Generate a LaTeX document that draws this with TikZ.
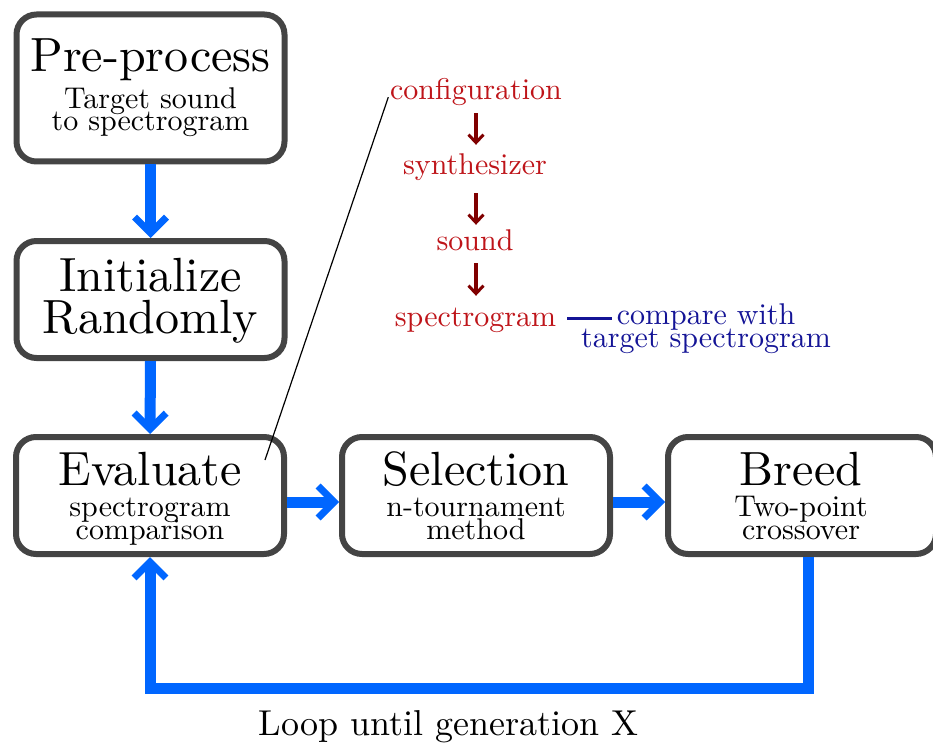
\documentclass[tikz,border=0pt]{standalone}
\usepackage{graphicx}
\usetikzlibrary{arrows.meta}
\definecolor{flowblue}{RGB}{0,102,255}
\definecolor{boxgray}{RGB}{68,68,68}
\definecolor{cfgred}{RGB}{190,20,25}
\definecolor{cfgarrow}{RGB}{128,0,0}
\definecolor{cmpblue}{RGB}{20,20,150}
\newcommand{\ttlsize}[1]{\scalebox{4.8}{#1}}
\newcommand{\subsize}[1]{\scalebox{3.0}{#1}}
\newcommand{\loopsize}[1]{\scalebox{3.6}{#1}}
\begin{document}
\begin{tikzpicture}[x=1pt,y=-1pt,
  box/.style={draw=boxgray, line width=6pt, rounded corners=20pt, minimum width=268pt, minimum height=117pt, inner sep=0pt, fill=white},
  titletext/.style={anchor=base, inner sep=0pt, text height=33pt, text depth=4pt},
  subtext/.style={anchor=base, inner sep=0pt, text height=16pt, text depth=4pt},
  redtext/.style={text=cfgred, anchor=base, inner sep=0pt, text height=21pt, text depth=6pt},
  bluetext/.style={text=cmpblue, anchor=base, inner sep=0pt, text height=16pt, text depth=4pt},
  flow/.style={draw=flowblue, line width=11pt, line join=miter, -{Straight Barb[length=16pt,width=32pt,line width=7pt]}},
  cfgarr/.style={draw=cfgarrow, line width=4pt, -{Straight Barb[length=8pt,width=15pt,line width=3pt]}},
  cmpline/.style={draw=cmpblue, line width=3pt},
  noteline/.style={draw=black, line width=1.2pt}]
\useasboundingbox (0,0) rectangle (933,743);
\clip (0,0) rectangle (933,743);

% boxes
\node[box, minimum height=147pt] (pre) at (150.5,88) {};
\node[box] (init) at (150.5,299.5) {};
\node[box] (eval) at (150,495.5) {};
\node[box] (sel) at (476,495.5) {};
\node[box] (breed) at (802,495.5) {};

% box texts
\node[titletext] (preT) at (150.5,72) {\ttlsize{Pre-process}};
\node[subtext] (preS1) at (150.5,109) {\subsize{Target sound}};
\node[subtext] (preS2) at (150.5,131) {\subsize{to spectrogram}};

\node[titletext] (initT1) at (150.5,291) {\ttlsize{Initialize}};
\node[titletext] (initT2) at (150.5,333) {\ttlsize{Randomly}};

\node[titletext] (evalT) at (150,485) {\ttlsize{Evaluate}};
\node[subtext] (evalS1) at (150,516) {\subsize{spectrogram}};
\node[subtext] (evalS2) at (150,539) {\subsize{comparison}};

\node[titletext] (selT) at (476,485) {\ttlsize{Selection}};
\node[subtext] (selS1) at (476,516) {\subsize{n-tournament}};
\node[subtext] (selS2) at (476,539) {\subsize{method}};

\node[titletext] (breedT) at (801,485) {\ttlsize{Breed}};
\node[subtext] (breedS1) at (801,516) {\subsize{Two-point}};
\node[subtext] (breedS2) at (801,539) {\subsize{crossover}};

% flow arrows
\draw[flow] (pre.south) -- (init.north);
\draw[flow] (init.south) -- (eval.north);
\draw[flow] ([yshift=-6.5pt]eval.east) -- ([yshift=-6.5pt]sel.west);
\draw[flow] ([yshift=-6.5pt]sel.east) -- ([yshift=-6.5pt]breed.west);
\draw[flow] ([xshift=6pt]breed.south) -- ++(0,131) -| (eval.south);

% configuration chain
\node[redtext] (config) at (476,100) {\subsize{configuration}};
\node[redtext] (synth) at (475,175) {\subsize{synthesizer}};
\node[redtext] (sound) at (475,250) {\subsize{sound}};
\node[redtext] (spec) at (475.5,326) {\subsize{spectrogram}};

\draw[cfgarr, shorten <=7pt, shorten >=9pt] (config.south -| 476,0) -- (synth.north -| 476,0);
\draw[cfgarr, shorten <=12pt, shorten >=4pt] (synth.south -| 476,0) -- (sound.north -| 476,0);
\draw[cfgarr, shorten <=7pt, shorten >=9pt] (sound.south -| 476,0) -- (spec.north -| 476,0);

\node[bluetext] (cmpA) at (706,324) {\subsize{compare with}};
\node[bluetext] (cmpB) at (706,347) {\subsize{target spectrogram}};
\draw[cmpline, shorten <=11pt, shorten >=5pt] (spec.east) -- (spec.east -| cmpA.west);

% note line
\coordinate (noteend) at (265,460);
\draw[noteline, shorten >=5pt] (noteend) -- (config.west);

% loop label
\node[anchor=base, inner sep=0pt] (loop) at (448.5,735) {\loopsize{Loop until generation X}};
\end{tikzpicture}
\end{document}
